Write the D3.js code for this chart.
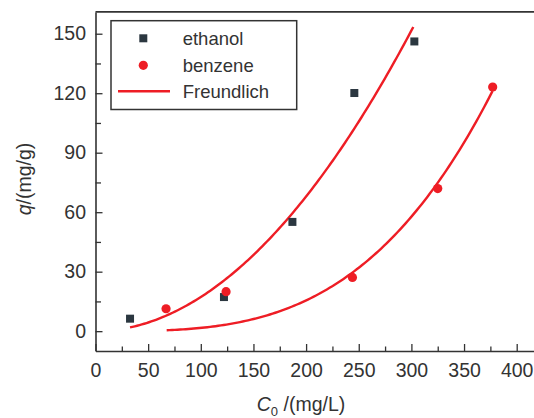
<!DOCTYPE html>
<html>
<head>
<meta charset="utf-8">
<script src="https://cdn.jsdelivr.net/npm/d3@7"></script>
<style>
  html, body { margin: 0; padding: 0; background: #fff; }
  svg { display: block; font-family: "Liberation Sans", Arial, sans-serif; }
</style>
</head>
<body>
<svg id="chart" width="534" height="418"></svg>
<script>
// Initial concentration C0 (mg/L) and adsorbed amount q (mg/g)
const ethanolC0 = [32.8, 122, 187, 245.8, 302.8];
const ethanolQ  = [6.3, 17.2, 55.1, 120.1, 146.1];
const benzeneC0 = [67, 124, 244, 325, 377.2];
const benzeneQ  = [11.3, 19.9, 27.1, 71.9, 123.1];

// Freundlich fits q = K * C0^n, drawn over each series' concentration span
const fitNames  = ["ethanol", "benzene"];
const fitK      = [0.001888, 5.44e-7];
const fitN      = [1.98, 3.24];
const fitFrom   = [32.8, 67.6];
const fitTo     = [301.8, 377];

const xTicks = [0, 50, 100, 150, 200, 250, 300, 350, 400];
const yTicks = [0, 30, 60, 90, 120, 150];

const legendLabels = ["ethanol", "benzene", "Freundlich"];

const RED = "#ee1d25";
const DARK = "#2b3740";
const AXIS = "#333";

const svg = d3.select("#chart");

const x = d3.scaleLinear().domain([0, 425]).range([95.5, 95.5 + 425 * 1.053]);
const y = d3.scaleLinear().domain([-10, 161]).range([351, 351 - 171 * 1.983]);

// frame: top border (right edge runs past the visible area)
svg.append("line")
  .attr("x1", x(0)).attr("x2", 540)
  .attr("y1", y(161)).attr("y2", y(161))
  .attr("stroke", AXIS).attr("stroke-width", 1.6);

// minor ticks
svg.append("g")
  .attr("transform", `translate(0,${y(-10)})`)
  .call(d3.axisBottom(x).tickValues(d3.range(25, 425, 50)).tickSize(-4.5).tickSizeOuter(0).tickFormat(""))
  .call(g => g.select(".domain").remove())
  .selectAll("line").attr("stroke", AXIS).attr("stroke-width", 1.3);
svg.append("g")
  .attr("transform", `translate(${x(0)},0)`)
  .call(d3.axisLeft(y).tickValues([15, 45, 75, 105, 135]).tickSize(-5.5).tickSizeOuter(0).tickFormat(""))
  .call(g => g.select(".domain").remove())
  .selectAll("line").attr("stroke", AXIS).attr("stroke-width", 1.3);

// major axes
const xAxis = svg.append("g")
  .attr("transform", `translate(0,${y(-10)})`)
  .call(d3.axisBottom(x).tickValues(xTicks).tickSize(-7).tickSizeOuter(0).tickPadding(12));
const yAxis = svg.append("g")
  .attr("transform", `translate(${x(0)},0)`)
  .call(d3.axisLeft(y).tickValues(yTicks).tickSize(-7).tickSizeOuter(0).tickPadding(9.5));

[xAxis, yAxis].forEach(g => {
  g.select(".domain").attr("stroke", AXIS).attr("stroke-width", 1.6);
  g.selectAll(".tick line").attr("stroke", AXIS).attr("stroke-width", 1.3);
  g.selectAll(".tick text")
    .attr("fill", AXIS)
    .style("font-size", "19.5px")
    .style("font-family", "'Liberation Sans', Arial, sans-serif");
});

// Freundlich curves
const line = d3.line().x(d => x(d[0])).y(d => y(d[1])).curve(d3.curveLinear);
fitNames.forEach((name, i) => {
  const pts = d3.range(0, 121).map(k => {
    const c = fitFrom[i] + (fitTo[i] - fitFrom[i]) * k / 120;
    return [c, fitK[i] * Math.pow(c, fitN[i])];
  });
  svg.append("path")
    .datum(pts)
    .attr("d", line)
    .attr("fill", "none")
    .attr("stroke", RED)
    .attr("stroke-width", 2.4);
});

// measured points
const sq = 8;
svg.append("g").selectAll("rect")
  .data(d3.zip(ethanolC0, ethanolQ))
  .join("rect")
  .attr("x", d => x(d[0]) - sq / 2)
  .attr("y", d => y(d[1]) - sq / 2)
  .attr("width", sq).attr("height", sq)
  .attr("fill", DARK);

svg.append("g").selectAll("circle")
  .data(d3.zip(benzeneC0, benzeneQ))
  .join("circle")
  .attr("cx", d => x(d[0]))
  .attr("cy", d => y(d[1]))
  .attr("r", 4.6)
  .attr("fill", RED);

// legend
const lg = svg.append("g");
lg.append("rect")
  .attr("x", 111).attr("y", 20.7)
  .attr("width", 185.7).attr("height", 88.8)
  .attr("fill", "#fff").attr("stroke", AXIS).attr("stroke-width", 1.5);
const rowY = [38.3, 65.3, 91.3];
lg.append("rect").attr("x", 143.3 - sq / 2).attr("y", rowY[0] - sq / 2)
  .attr("width", sq).attr("height", sq).attr("fill", DARK);
lg.append("circle").attr("cx", 143.3).attr("cy", rowY[1]).attr("r", 4.6).attr("fill", RED);
lg.append("line").attr("x1", 118).attr("x2", 170).attr("y1", rowY[2]).attr("y2", rowY[2])
  .attr("stroke", RED).attr("stroke-width", 2.4);
lg.selectAll("text.lab")
  .data(legendLabels)
  .join("text")
  .attr("class", "lab")
  .attr("x", 182.7)
  .attr("y", (d, i) => rowY[i])
  .attr("dy", "0.35em")
  .attr("fill", AXIS)
  .style("font-size", "18.5px")
  .text(d => d);

// axis titles
const xt = svg.append("text")
  .attr("x", 301).attr("y", 410.5)
  .attr("text-anchor", "middle")
  .attr("fill", AXIS)
  .style("font-size", "19.5px");
xt.append("tspan").style("font-style", "italic").text("C");
xt.append("tspan").attr("dy", 5).style("font-size", "13px").text("0");
xt.append("tspan").attr("dy", -5).text(" /(mg/L)");

const yt = svg.append("text")
  .attr("transform", "translate(31,179) rotate(-90)")
  .attr("text-anchor", "middle")
  .attr("fill", AXIS)
  .style("font-size", "19.5px");
yt.append("tspan").style("font-style", "italic").text("q");
yt.append("tspan").text("/(mg/g)");
</script>
</body>
</html>
